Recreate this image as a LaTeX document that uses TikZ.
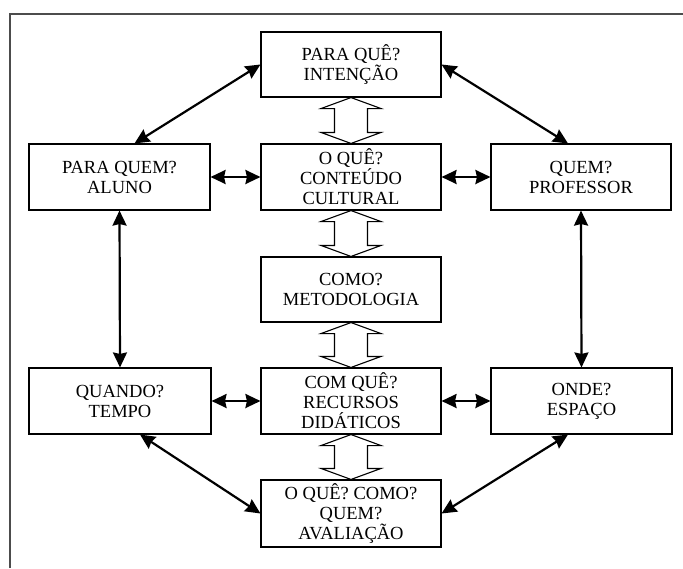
\documentclass[tikz,border=0pt]{standalone}
\usepackage{fontspec}
\setmainfont{Liberation Serif}
\usetikzlibrary{arrows.meta,calc}

\begin{document}
\begin{tikzpicture}[x=1pt,y=-1pt,
    box/.style={draw,rectangle,line width=1.1pt,minimum width=180pt,minimum height=66pt,
      align=center,inner sep=0pt,font=\fontsize{18.5}{20}\selectfont},
    link/.style={line width=2.2pt,{Stealth[length=15pt,width=14pt,inset=1.5pt]}-{Stealth[length=15pt,width=14pt,inset=1.5pt]}},
    hollow/.style={draw,line width=1.1pt,fill=white,line join=miter}]
  \useasboundingbox (0,0) rectangle (683,568);
  \draw[line width=1.3pt,black!70] (10,568) -- (10,14) -- (683,14);

  \node[box,minimum height=65pt] at (351,64.5) (intent) {PARA QUÊ?\\INTENÇÃO};
  \node[box] at (351,177) (conteudo) {O QUÊ?\\CONTEÚDO\\CULTURAL};
  \node[box,minimum height=65pt] at (351,289.5) (metodo) {COMO?\\METODOLOGIA};
  \node[box] at (351,401) (recursos) {COM QUÊ?\\RECURSOS\\DIDÁTICOS};
  \node[box,minimum height=67pt] at (351,513.5) (avaliacao) {O QUÊ? COMO?\\QUEM?\\AVALIAÇÃO};

  \node[box,minimum width=181pt] at (119.5,177) (aluno) {PARA QUEM?\\ALUNO};
  \node[box] at (581,177) (professor) {QUEM?\\PROFESSOR};
  \node[box,minimum width=182pt] at (120,401) (tempo) {QUANDO?\\TEMPO};
  \node[box,minimum width=181pt] at (581.5,401) (espaco) {ONDE?\\ESPAÇO};

  % hollow arrows down the middle
  \foreach \a/\b in {intent/conteudo,conteudo/metodo,metodo/recursos,recursos/avaliacao}
    \draw[hollow] (\a.south) -- ($(\a.south)+(30,11)$) -- ($(\a.south)+(16.5,11)$)
      -- ($(\b.north)+(16.5,-11)$) -- ($(\b.north)+(30,-11)$) -- (\b.north)
      -- ($(\b.north)+(-30,-11)$) -- ($(\b.north)+(-16.5,-11)$)
      -- ($(\a.south)+(-16.5,11)$) -- ($(\a.south)+(-30,11)$) -- cycle;

  \draw[link] (intent.west) -- ([xshift=15pt]aluno.north);
  \draw[link] (intent.east) -- ([xshift=-13pt]professor.north);
  \draw[link] (aluno.east) -- (conteudo.west); \draw[link] (conteudo.east) -- (professor.west);
  \draw[link] (aluno.south) -- (tempo.north); \draw[link] (professor.south) -- (espaco.north);
  \draw[link] (tempo.east) -- (recursos.west); \draw[link] (recursos.east) -- (espaco.west);
  \draw[link] ([xshift=20pt]tempo.south) -- (avaliacao.west);
  \draw[link] ([xshift=-13.5pt]espaco.south) -- (avaliacao.east);

\end{tikzpicture}
\end{document}
